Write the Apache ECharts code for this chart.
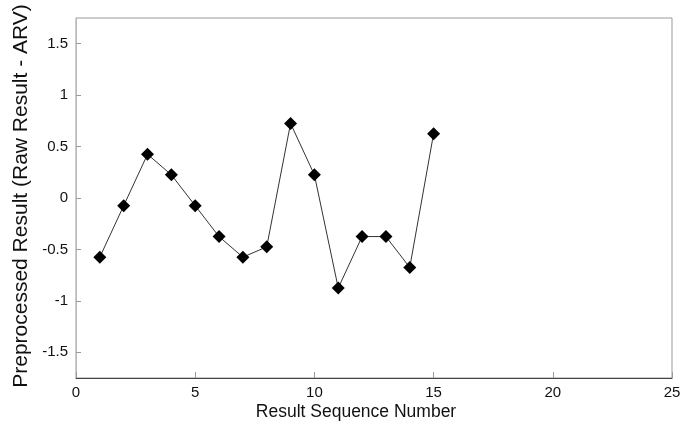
<!DOCTYPE html>
<html><head><meta charset="utf-8">
<script src="https://cdn.jsdelivr.net/npm/echarts@6/dist/echarts.min.js"></script>
<style>html,body{margin:0;padding:0;background:#fff}#c{width:690px;height:429px}</style>
</head><body><div id="c"></div>
<script>
const seqNumbers = [1,2,3,4,5,6,7,8,9,10,11,12,13,14,15];
const preprocessed = [-0.575,-0.075,0.425,0.225,-0.075,-0.375,-0.575,-0.475,0.725,0.225,-0.875,-0.375,-0.375,-0.675,0.625];
const yTicks = [-1.5,-1,-0.5,0,0.5,1,1.5];
const xTitle = 'Result Sequence Number';
const yTitle = 'Preprocessed Result (Raw Result - ARV)';

const chart = echarts.init(document.getElementById('c'));
const font = 'Liberation Sans, Arial, sans-serif';
chart.setOption({
  animation: false,
  backgroundColor: '#fff',
  grid: {left: 76, right: 18, top: 18, bottom: 51, show: true, borderColor: '#999', borderWidth: 1},
  xAxis: {
    type: 'value', min: 0, max: 25, interval: 5,
    axisLine: {show: true, onZero: false, lineStyle: {color: '#444', width: 1}},
    axisTick: {show: true, inside: true, length: 6, lineStyle: {color: '#999'}},
    splitLine: {show: false},
    axisLabel: {color: '#111', fontSize: 15, fontFamily: font, margin: 7}
  },
  yAxis: {
    type: 'value', min: -1.75, max: 1.75,
    axisLine: {show: true, onZero: false, lineStyle: {color: '#bbb', width: 1}},
    axisTick: {show: true, inside: true, length: 5, customValues: yTicks, lineStyle: {color: '#999'}},
    splitLine: {show: false},
    axisLabel: {color: '#111', fontSize: 15, fontFamily: font, margin: 8, customValues: yTicks,
      formatter: v => String(v)}
  },
  graphic: [
    {type: 'text', position: [356, 412], style: {text: xTitle, fill: '#111', font: '17.5px ' + font, textAlign: 'center', textVerticalAlign: 'middle'}},
    {type: 'text', position: [21, 196], rotation: Math.PI/2, style: {text: yTitle, fill: '#111', font: '21px ' + font, textAlign: 'center', textVerticalAlign: 'middle'}}
  ],
  series: [{
    type: 'line',
    data: seqNumbers.map((x, i) => [x, preprocessed[i]]),
    symbol: 'diamond', symbolSize: 13,
    itemStyle: {color: '#000'},
    lineStyle: {color: '#333', width: 1}
  }]
});
</script></body></html>
